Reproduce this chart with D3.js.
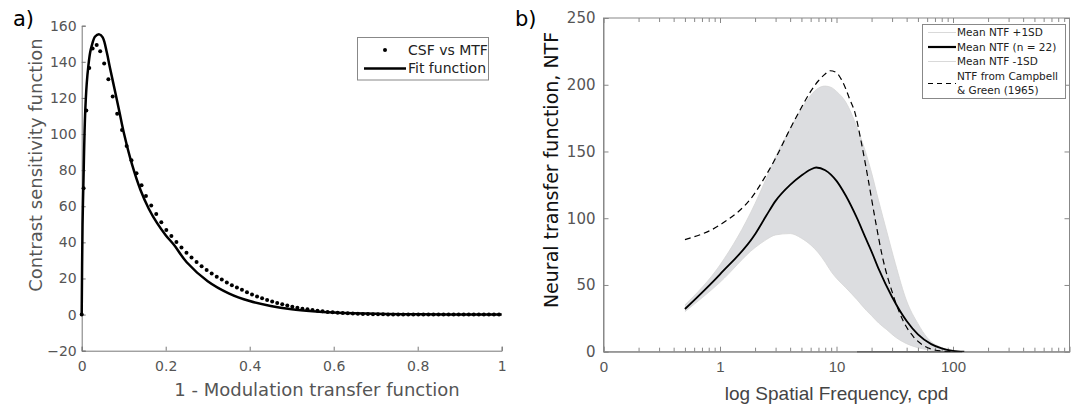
<!DOCTYPE html>
<html><head><meta charset="utf-8">
<script src="https://cdn.jsdelivr.net/npm/d3@7"></script>
<style>body{margin:0;background:#fff}svg{display:block}</style>
</head><body>
<svg id="c" width="1075" height="412"></svg>
<script>
// ---------- Panel a data ----------
const csfX = [0, 0.0045, 0.011, 0.018, 0.026, 0.0357, 0.044, 0.0535, 0.0635, 0.0738, 0.0845, 0.096, 0.107, 0.1185, 0.1305, 0.1425, 0.153, 0.1655, 0.1775, 0.1895,
  0.2015, 0.2135, 0.2255, 0.2375, 0.2495, 0.2615, 0.2735, 0.2855, 0.2975, 0.3095, 0.3215, 0.3335, 0.3455, 0.3575, 0.3695, 0.3815, 0.3935, 0.4055, 0.4175, 0.4295,
  0.4415, 0.4535, 0.4655, 0.4775, 0.4895, 0.5015, 0.5135, 0.5255, 0.5375, 0.5495, 0.5615, 0.5735, 0.5855, 0.5975, 0.6095, 0.6215, 0.6335, 0.6455, 0.6575, 0.6695,
  0.6815, 0.6935, 0.7055, 0.7175, 0.7295, 0.7415, 0.7535, 0.7655, 0.7775, 0.7895, 0.8015, 0.8135, 0.8255, 0.8375, 0.8495, 0.8615, 0.8735, 0.8855, 0.8975, 0.9095,
  0.9215, 0.9335, 0.9455, 0.9575, 0.9695, 0.9815, 0.9935];
const csfY = [0, 70, 113, 136.6, 147.4, 149.3, 145.8, 139, 130.3, 120.8, 111.3, 102.2, 93.4, 85.5, 78.3, 71.7, 65.7, 60.4, 55.7, 51.2,
  46.9, 43.5, 40.2, 37.1, 34.3, 31.6, 29.1, 26.8, 24.7, 22.8, 21.0, 19.4, 17.8, 16.3, 15.0, 13.7, 12.4, 11.1, 10.0, 9.0,
  8.1, 7.2, 6.4, 5.7, 5.0, 4.4, 3.8, 3.3, 2.9, 2.5, 2.1, 1.8, 1.5, 1.25, 1.05, 0.85, 0.7, 0.55, 0.45, 0.35,
  0.28, 0.22, 0.17, 0.13, 0.1, 0.08, 0.06, 0.05, 0.04, 0.03, 0.02, 0.02, 0.01, 0.01, 0.01, 0, 0, 0, 0, 0,
  0, 0, 0, 0, 0, 0, 0];
const fitX = [0, 0.002, 0.004, 0.008, 0.012, 0.016, 0.02, 0.024, 0.032, 0.042, 0.05, 0.06, 0.067, 0.08, 0.09, 0.1, 0.12, 0.14, 0.16, 0.18, 0.2, 0.22, 0.25, 0.3, 0.35, 0.4, 0.45, 0.5, 0.55, 0.6, 0.7, 0.8, 0.9, 1];
const fitY = [0, 50, 72, 110, 128, 138, 145, 149, 154, 155.2, 153.5, 145, 137, 123, 112, 101, 83, 69, 58.5, 50.5, 44, 38.5, 29, 18.5, 11.8, 7.5, 4.8, 3.0, 1.9, 1.2, 0.45, 0.15, 0.05, 0];
const aXTicks = [0, 0.2, 0.4, 0.6, 0.8, 1];
const aXTickLabels = ["0", "0.2", "0.4", "0.6", "0.8", "1"];
const aYTicks = [-20, 0, 20, 40, 60, 80, 100, 120, 140, 160];
const aLegend = ["CSF vs MTF", "Fit function"];

// ---------- Panel b data ----------
const meanF = [0.5, 1, 2, 2.5, 3, 4, 5, 6, 6.7, 8, 10, 12, 15, 17.6, 20, 23, 30, 40, 50, 65, 80, 100, 125];
const meanNTF = [32, 58, 88, 102, 113, 125, 132, 136.5, 138, 136, 128, 117, 100, 86, 75, 62, 41, 23, 13, 5.7, 2.5, 0.6, 0];
const bandF = [0.5, 1, 2, 2.5, 3, 4, 5, 6, 7, 8, 9, 10, 12, 15, 18, 20, 23, 27, 32, 40, 50, 60, 80, 100, 120];
const plusSD = [35, 65, 111, 130, 146, 167, 182, 192, 197.5, 199, 198, 195, 187, 168, 148, 134, 113, 90, 66, 38, 21, 10.5, 3, 0.8, 0];
const minusSD = [30, 52, 78, 84, 87.5, 88.5, 85, 80, 74, 67, 60, 55, 48, 39, 31, 27, 21.5, 16.5, 11, 6, 3, 1.5, 0.3, 0, 0];
const cgF = [0.5, 1, 2, 2.4, 3, 4, 5, 6, 7, 8, 8.8, 10, 11, 12, 13, 14.3, 16.4, 18.8, 21.6, 24.8, 30.5, 37.4, 46, 55, 65, 80, 100];
const cgNTF = [84, 95, 119, 130, 145, 167, 183, 195, 203, 208, 210.5, 209, 204, 197, 189, 180, 156, 128, 98, 71, 43, 23, 11, 5, 2, 0.5, 0];
const zeroSpanF = [15, 120];
const bXTicks = [0.1, 1, 10, 100];
const bXTickLabels = ["0", "1", "10", "100"];
const bYTicks = [0, 50, 100, 150, 200, 250];
const bLegend = ["Mean NTF +1SD", "Mean NTF (n = 22)", "Mean NTF -1SD", "NTF from Campbell", "& Green (1965)"];

const svg = d3.select("#c");
const DJ = "'DejaVu Sans', Verdana, sans-serif";
const LS = "'Liberation Sans', Arial, sans-serif";

// ================= Panel a =================
const ax = d3.scaleLinear().domain([0, 1]).range([81.7, 501.7]);
const ay = d3.scaleLinear().domain([-20, 160]).range([350.7, 25.7]);
const gA = svg.append("g");

const axA = gA.append("g").attr("transform", `translate(0,${ay(-20)})`)
  .call(d3.axisBottom(ax).tickValues(aXTicks).tickFormat((d, i) => aXTickLabels[i]).tickSize(-4).tickPadding(10));
const ayA = gA.append("g").attr("transform", `translate(${ax(0)},0)`)
  .call(d3.axisLeft(ay).tickValues(aYTicks).tickFormat(d3.format("d")).tickSize(-4).tickPadding(5));
[axA, ayA].forEach(g => {
  g.select(".domain").attr("stroke", "#777").attr("stroke-width", 1);
  g.selectAll(".tick line").attr("stroke", "#777");
  g.selectAll(".tick text").attr("fill", "#555").style("font-family", DJ).style("font-size", "14px");
});

const fitLine = d3.line().x(d => ax(d[0])).y(d => ay(d[1])).curve(d3.curveCatmullRom.alpha(0.5));
gA.append("path").datum(d3.zip(fitX, fitY)).attr("d", fitLine)
  .attr("fill", "none").attr("stroke", "#000").attr("stroke-width", 2.5);
gA.append("g").selectAll("circle").data(d3.zip(csfX, csfY)).join("circle")
  .attr("cx", d => ax(d[0])).attr("cy", d => ay(d[1])).attr("r", 2).attr("fill", "#000");

gA.append("text").attr("x", 317).attr("y", 396).attr("text-anchor", "middle")
  .attr("fill", "#555").style("font-family", DJ).style("font-size", "18px").text("1 - Modulation transfer function");
gA.append("text").attr("transform", "translate(42,165) rotate(-90)").attr("text-anchor", "middle")
  .attr("fill", "#555").style("font-family", DJ).style("font-size", "18px").text("Contrast sensitivity function");
svg.append("text").attr("x", 13).attr("y", 26).attr("fill", "#000").style("font-family", DJ).style("font-size", "21px").text("a)");

// legend a
const lgA = gA.append("g");
lgA.append("rect").attr("x", 357.5).attr("y", 37.5).attr("width", 131).attr("height", 42.5)
  .attr("fill", "#fff").attr("stroke", "#888").attr("stroke-width", 1);
lgA.append("circle").attr("cx", 385).attr("cy", 50).attr("r", 2).attr("fill", "#000");
lgA.append("line").attr("x1", 364).attr("x2", 406).attr("y1", 68.5).attr("y2", 68.5).attr("stroke", "#000").attr("stroke-width", 2.5);
lgA.selectAll("text.l").data(aLegend).join("text").attr("class", "l")
  .attr("x", 408).attr("y", (d, i) => 50 + i * 18.5).attr("dy", "0.35em")
  .attr("fill", "#222").style("font-family", DJ).style("font-size", "14px").text(d => d);

// ================= Panel b =================
const bx = d3.scaleLog().domain([0.1, 1000]).range([603.5, 1069.5]);
const by = d3.scaleLinear().domain([0, 250]).range([351.7, 18]);
const gB = svg.append("g");
svg.append("defs").append("clipPath").attr("id", "clipB").append("rect")
  .attr("x", 603.5).attr("y", 18).attr("width", 466).attr("height", 333.7);

// band
const band = d3.area().x(d => bx(d[0])).y0(d => by(d[2])).y1(d => by(d[1])).curve(d3.curveMonotoneX);
const bandData = d3.zip(bandF, plusSD, minusSD);
gB.append("path").datum(bandData).attr("d", band).attr("fill", "#dcdde0").attr("clip-path", "url(#clipB)");
const lineB = d3.line().x(d => bx(d[0])).y(d => by(d[1])).curve(d3.curveMonotoneX);
gB.append("path").datum(d3.zip(bandF, plusSD)).attr("d", lineB).attr("fill", "none").attr("stroke", "#d6d6d6").attr("stroke-width", 0.8);
gB.append("path").datum(d3.zip(bandF, minusSD)).attr("d", lineB).attr("fill", "none").attr("stroke", "#d6d6d6").attr("stroke-width", 0.8);

// minor ticks
const minorF = [];
for (let e = -1; e < 3; e++) for (let k = 2; k <= 9; k++) minorF.push(k * Math.pow(10, e));
const tickCol = "#888";
const boxG = gB.append("g");
boxG.append("g").attr("transform", `translate(0,${by(0)})`)
  .call(d3.axisBottom(bx).tickValues(minorF).tickFormat("").tickSize(-4)).call(g => g.select(".domain").remove());
boxG.append("g").attr("transform", `translate(0,${by(250)})`)
  .call(d3.axisTop(bx).tickValues(minorF).tickFormat("").tickSize(-4)).call(g => g.select(".domain").remove());
boxG.append("g").attr("transform", `translate(0,${by(250)})`)
  .call(d3.axisTop(bx).tickValues(bXTicks).tickFormat("").tickSize(-5)).call(g => g.select(".domain").remove());
boxG.append("g").attr("transform", `translate(${bx(1000)},0)`)
  .call(d3.axisRight(by).tickValues(bYTicks).tickFormat("").tickSize(-5)).call(g => g.select(".domain").remove());
const bxAxis = boxG.append("g").attr("transform", `translate(0,${by(0)})`)
  .call(d3.axisBottom(bx).tickValues(bXTicks).tickFormat((d, i) => bXTickLabels[i]).tickSize(-5).tickPadding(10));
const byAxis = boxG.append("g").attr("transform", `translate(${bx(0.1)},0)`)
  .call(d3.axisLeft(by).tickValues(bYTicks).tickFormat(d3.format("d")).tickSize(-5).tickPadding(8));
boxG.selectAll(".tick line").attr("stroke", tickCol);
boxG.selectAll(".domain").attr("stroke", tickCol);
bxAxis.selectAll(".tick text").attr("fill", "#555").style("font-family", LS).style("font-size", "15px");
byAxis.selectAll(".tick text").attr("fill", "#555").style("font-family", DJ).style("font-size", "15px");
boxG.append("rect").attr("x", bx(0.1)).attr("y", by(250)).attr("width", bx(1000) - bx(0.1)).attr("height", by(0) - by(250))
  .attr("fill", "none").attr("stroke", tickCol).attr("stroke-width", 1);

// zero span line
gB.append("line").attr("x1", bx(zeroSpanF[0])).attr("x2", bx(zeroSpanF[1])).attr("y1", by(0)).attr("y2", by(0))
  .attr("stroke", "#666").attr("stroke-width", 1.6);

// curves
gB.append("path").datum(d3.zip(cgF, cgNTF)).attr("d", lineB).attr("fill", "none")
  .attr("stroke", "#000").attr("stroke-width", 1.2).attr("stroke-dasharray", "6,4").attr("clip-path", "url(#clipB)");
gB.append("path").datum(d3.zip(meanF, meanNTF)).attr("d", lineB).attr("fill", "none")
  .attr("stroke", "#000").attr("stroke-width", 1.8).attr("clip-path", "url(#clipB)");

// labels
gB.append("text").attr("x", bx(Math.sqrt(0.1 * 1000))).attr("y", 400).attr("text-anchor", "middle")
  .attr("fill", "#444").style("font-family", LS).style("font-size", "19px").text("log Spatial Frequency, cpd");
gB.append("text").attr("transform", "translate(558,170) rotate(-90)").attr("text-anchor", "middle")
  .attr("fill", "#111").style("font-family", DJ).style("font-size", "19px").text("Neural transfer function, NTF");
svg.append("text").attr("x", 515).attr("y", 26).attr("fill", "#000").style("font-family", DJ).style("font-size", "21px").text("b)");

// legend b
const lgB = gB.append("g");
lgB.append("rect").attr("x", 922.5).attr("y", 24.5).attr("width", 143).attr("height", 74)
  .attr("fill", "#fff").attr("stroke", "#888").attr("stroke-width", 1);
const rowY = [32.5, 47, 61.5, 76, 90];
lgB.append("line").attr("x1", 928).attr("x2", 956).attr("y1", rowY[0]).attr("y2", rowY[0]).attr("stroke", "#cfcfcf").attr("stroke-width", 0.8);
lgB.append("line").attr("x1", 928).attr("x2", 956).attr("y1", rowY[1]).attr("y2", rowY[1]).attr("stroke", "#000").attr("stroke-width", 2.2);
lgB.append("line").attr("x1", 928).attr("x2", 956).attr("y1", rowY[2]).attr("y2", rowY[2]).attr("stroke", "#cfcfcf").attr("stroke-width", 0.8);
lgB.append("line").attr("x1", 928).attr("x2", 956).attr("y1", 83.5).attr("y2", 83.5).attr("stroke", "#000").attr("stroke-width", 1).attr("stroke-dasharray", "5,4");
lgB.selectAll("text.l").data(bLegend).join("text").attr("class", "l")
  .attr("x", 957).attr("y", (d, i) => rowY[i]).attr("dy", "0.35em")
  .attr("fill", "#222").style("font-family", DJ).style("font-size", "10.5px").text(d => d);
</script>
</body></html>
